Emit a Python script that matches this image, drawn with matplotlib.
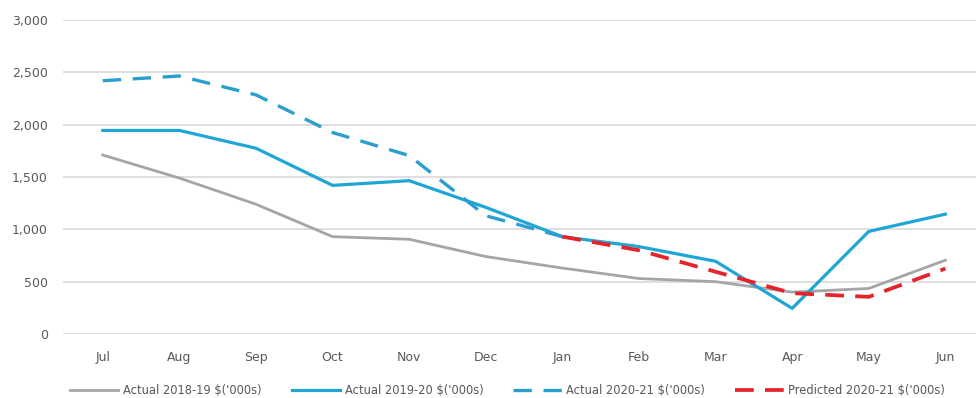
import matplotlib
matplotlib.use("Agg")
import matplotlib.pyplot as plt
from matplotlib.ticker import FuncFormatter

months = ["Jul", "Aug", "Sep", "Oct", "Nov", "Dec", "Jan", "Feb", "Mar", "Apr", "May", "Jun"]
actual_1819 = [1710, 1490, 1240, 930, 905, 740, 630, 530, 500, 400, 435, 705]
actual_1920 = [1945, 1945, 1775, 1420, 1465, 1210, 930, 835, 695, 245, 980, 1145]
actual_2021 = [2420, 2465, 2285, 1925, 1705, 1130, 930]
predicted_2021 = [None] * 6 + [930, 800, 595, 390, 355, 625]

labels = ["Actual 2018-19 $('000s)", "Actual 2019-20 $('000s)",
          "Actual 2020-21 $('000s)", "Predicted 2020-21 $('000s)"]

plt.rcParams['font.family'] = ['DejaVu Sans']

fig = plt.figure(figsize=(9.76, 3.98), dpi=100)
ax = fig.add_axes([0.0645, 0.1608, 0.9355, 0.7889])

x = list(range(len(months)))
ax.plot(x, actual_1819, color="#A5A5A5", lw=2.0, label=labels[0])
ax.plot(x, actual_1920, color="#20A6D6", lw=2.3, label=labels[1])
ax.plot(x[:len(actual_2021)], actual_2021, color="#2A9FCF", lw=2.4, ls=(0, (5.5, 3.5)), label=labels[2])
px = [i for i, v in enumerate(predicted_2021) if v is not None]
pv = [v for v in predicted_2021 if v is not None]
ax.plot(px, pv, color="#E5232A", lw=2.7, ls=(0, (5, 3)), label=labels[3])

ax.set_ylim(0, 3000)
ax.set_xlim(-0.52, 11.4)
ax.set_yticks(range(0, 3001, 500))
ax.yaxis.set_major_formatter(FuncFormatter(lambda v, p: f"{int(v):,}"))
ax.set_xticks(x)
ax.set_xticklabels(months)
ax.grid(axis="y", color="#D9D9D9", lw=1.2)
ax.set_axisbelow(True)
for s in ax.spines.values():
    s.set_visible(False)
ax.tick_params(axis="both", length=0, labelsize=9, colors="#595959")
ax.tick_params(axis="x", pad=12)
ax.tick_params(axis="y", pad=11)

leg = fig.legend(loc="center", bbox_to_anchor=(0.52, 0.02), ncol=4, frameon=False,
                 fontsize=8.3, handlelength=4.2, columnspacing=2.6, handletextpad=0.4)
for t in leg.get_texts():
    t.set_color("#595959")

fig.savefig("out.png", dpi=100)
